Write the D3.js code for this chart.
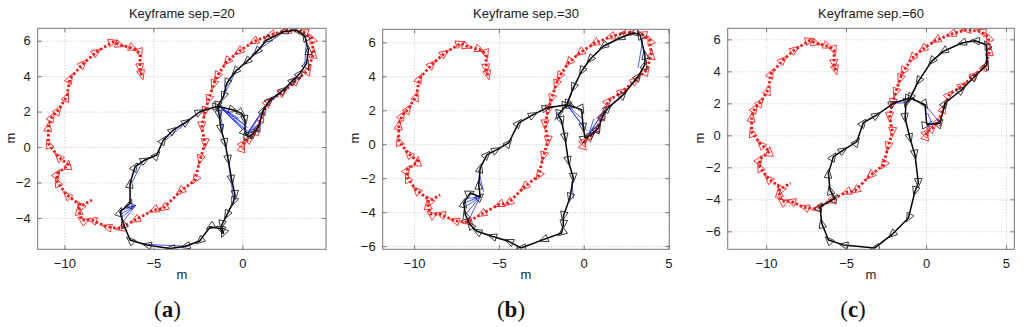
<!DOCTYPE html>
<html>
<head>
<meta charset="utf-8">
<script src="https://cdn.jsdelivr.net/npm/d3@7"></script>
<style>
  body { margin: 0; background: #fff; }
  svg { display: block; font-family: "Liberation Sans", Arial, sans-serif; }
</style>
</head>
<body>
<script>
'use strict';

// panel titles and captions
const titles = ["Keyframe sep.=20", "Keyframe sep.=30", "Keyframe sep.=60"];
const captions = ["a", "b", "c"];

// axis limits and ticks
const xDomains = [[-11.5, 4.7], [-11.85, 5.05], [-12.4, 5.52]];
const yDomains = [[-5.77, 6.7], [-6.19, 6.77], [-7.125, 6.69]];
const xTicks = [[-10, -5, 0], [-10, -5, 0, 5], [-10, -5, 0, 5]];
const yTicks = [[-4, -2, 0, 2, 4, 6], [-6, -4, -2, 0, 2, 4, 6], [-6, -4, -2, 0, 2, 4, 6]];

// ground truth (red), same for every panel
const redPath = [
  [-5.65,4.06],[-5.75,4.44],[-5.75,5.29],[-6.12,5.57],[-6.87,5.76],[-7.25,5.94],[-8.18,5.38],
  [-8.93,4.72],[-9.68,3.88],[-9.87,2.84],[-10.34,2.09],[-10.7,1.7],[-10.9,1.15],[-10.9,0.2],
  [-10.34,-0.55],[-9.78,-1.0],[-10.4,-1.5],[-10.4,-1.97],[-9.87,-2.7],[-9.12,-3.27],[-9.2,-3.56],
  [-9.02,-4.12],[-8.46,-4.12],[-7.62,-4.5],[-6.87,-4.59],[-6.03,-4.12],[-5.0,-3.56],[-4.44,-3.46],
  [-3.5,-2.52],[-2.66,-1.86],[-2.38,-0.73],[-2.1,0.2],[-2.28,1.15],[-2.1,1.99],[-1.91,2.65],
  [-1.63,3.5],[-1.44,3.97],[-0.88,4.81],[-0.22,5.38],[0.62,5.94],[1.56,6.32],[2.49,6.6],
  [3.43,6.5],[3.9,6.13],[3.99,5.29],[3.71,4.35],[3.06,3.78],[2.3,3.12],[1.46,2.56],[1.09,1.71],
  [0.81,0.96],[0.43,0.49],[0.06,0.21],[0.0,0.0]
];
const redBranch = [[-9.0,-3.3],[-8.46,-2.99]];

// estimated trajectories (black)
const blackA = [
  [0.15,0.77],[0.15,1.52],[-0.04,1.9],[-0.5,2.09],[-1.4,2.3],
  [-2.38,1.99],[-3.13,1.43],[-3.88,0.96],[-4.44,0.4],[-4.81,-0.45],[-5.47,-0.73],[-6.03,-1.11],
  [-6.31,-2.05],[-6.31,-3.18],[-6.88,-3.65],[-6.69,-4.31],[-6.31,-5.25],[-5.37,-5.53],[-4.06,-5.72],
  [-3.2,-5.6],[-2.4,-5.3],[-1.81,-4.5],[-1.25,-4.59],[-1.07,-4.87],[-1.16,-4.4],[-0.88,-3.84],
  [-0.5,-3.09],[-0.41,-2.71],[-0.6,-1.86],[-0.79,-0.73],[-0.97,0.21],[-1.2,1.0],[-1.3,1.8],[-1.4,2.3],
  [-1.07,2.84],[-0.88,3.59],[-0.41,4.25],[0.24,4.82],[0.81,5.38],[1.37,6.04],[2.3,6.5],[3.05,6.6],
  [3.52,6.23],[3.71,5.47],[3.61,4.72],[3.24,4.16],[2.87,3.78],[2.3,3.22],[1.55,2.65],[1.18,2.09],
  [0.9,1.15],[0.62,0.77],[0.34,0.58],[0.15,0.77]
];
const blackB = [
  [0.08,0.37],[-0.02,0.96],[-0.12,2.04],[-0.71,2.24],[-1.0,2.33],
  [-2.18,2.14],[-2.97,1.74],[-3.83,1.26],[-4.42,0.08],[-5.14,-0.33],[-5.7,-0.61],[-6.1,-1.4],
  [-6.19,-2.38],[-6.1,-3.1],[-6.69,-2.87],[-7.07,-3.46],[-6.98,-4.15],[-6.69,-4.74],[-6.29,-5.13],
  [-5.41,-5.42],[-4.42,-5.72],[-3.7,-6.11],[-2.38,-5.62],[-1.3,-5.23],[-1.2,-4.74],[-1.2,-4.24],
  [-0.81,-3.16],[-0.61,-1.98],[-0.9,-1.0],[-1.1,0.37],[-1.3,1.36],[-1.5,1.74],[-1.0,2.33],
  [-0.61,3.32],[-0.12,4.3],[0.37,4.99],[1.16,5.77],[2.14,6.26],[2.92,6.56],[3.32,6.46],[3.61,5.28],
  [3.61,4.69],[3.22,4.0],[2.34,2.92],[1.45,2.14],[1.16,1.74],[0.86,0.96],[0.47,0.57],[0.08,0.37]
];
const blackC = [
  [0.04,0.7],[-0.06,1.91],[-1.0,2.33],
  [-2.04,2.0],[-3.08,1.27],[-3.92,0.79],[-4.33,-0.4],[-5.17,-0.92],[-5.79,-1.33],[-6.1,-2.38],
  [-6.0,-3.42],[-5.69,-3.94],[-6.63,-4.46],[-6.52,-5.5],[-6.1,-6.54],[-5.17,-6.85],[-3.2,-7.04],
  [-2.14,-6.21],[-1.1,-5.17],[-0.69,-3.5],[-0.48,-2.98],[-0.69,-1.21],[-1.0,-0.2],[-1.31,1.08],
  [-1.25,2.0],[-1.0,2.33],
  [-0.48,3.37],[0.35,4.62],[1.08,5.25],[2.23,5.77],[3.06,5.91],[3.79,5.66],[3.79,4.41],[3.06,3.69],
  [2.23,2.85],[1.19,2.02],[0.88,0.77],[0.04,0.66]
];

// loop-closure links (blue), [x1, y1, x2, y2]
const blueA = [
  [-1.3,2.3,0.0,1.0],[-1.3,2.3,0.2,0.9],[-1.3,2.3,0.3,1.1],[-1.3,2.3,0.1,1.3],[-1.3,2.3,0.4,0.8],
  [-1.3,2.3,-0.2,1.6],[0.3,0.8,0.9,1.6],[0.3,0.8,1.1,2.0],[0.3,0.8,1.3,2.3],[0.3,0.8,0.7,1.2],
  [0.3,0.8,1.0,1.0],[0.3,0.8,1.2,1.4],[-6.0,-3.3,-6.9,-3.6],[-6.0,-3.3,-6.85,-3.8],
  [-6.0,-3.3,-6.8,-4.0],[-6.0,-3.3,-6.7,-4.2],[-6.0,-3.3,-6.6,-3.4],[-6.0,-3.3,-6.4,-3.1],
  [-6.2,-2.0,-5.6,-0.8],[-4.3,0.4,-3.0,1.5],[-1.1,2.8,-0.3,4.4],[0.5,5.2,2.2,6.4],
  [3.6,6.1,3.5,4.5],[3.3,4.0,1.5,2.5],[-0.8,-0.7,-0.5,-2.9],[-5.3,-5.5,-3.0,-5.6],
  [-1.3,2.3,-1.1,1.0],[-1.3,2.3,-0.9,3.3]
];
const blueB = [
  [0.3,0.6,1.1,1.8],[0.3,0.6,1.3,2.1],[0.3,0.6,0.9,1.2],[0.3,0.6,0.6,1.5],[0.3,0.6,1.0,0.8],
  [-1.0,2.33,0.0,1.0],[-1.0,2.33,0.2,0.8],[-1.0,2.33,-0.1,1.5],[-1.5,1.9,-1.7,1.4],
  [-6.1,-3.1,-7.07,-3.46],[-6.1,-3.1,-7.0,-3.7],[-6.1,-3.1,-6.98,-4.15],[-6.1,-3.1,-6.8,-4.5],
  [-6.1,-3.1,-6.69,-2.87],[-6.1,-3.1,-6.9,-3.2],[-6.2,-1.5,-5.9,-2.8],[3.5,6.2,3.2,4.5],
  [-0.7,-2.2,-0.6,-3.2],[-1.0,2.33,-0.7,3.0]
];
const blueC = [
  [-2.04,2.0,-1.2,2.05],[-0.06,1.91,0.88,0.77],[0.04,0.7,0.3,0.4],[0.04,0.7,0.88,0.77],
  [0.04,0.66,0.4,0.9],[0.1,1.4,0.4,0.6],[3.79,5.66,3.85,4.5],[-1.0,2.33,-0.6,3.1]
];

const blacks = [blackA, blackB, blackC];
const blues = [blueA, blueB, blueC];

// layout
const W = 1024, H = 327;
const boxes = [
  {l: 37.7, r: 326, t: 28.3, b: 249.3, yLab: 15, cap: 167.5},
  {l: 382.7, r: 669.3, t: 29.3, b: 249.3, yLab: 358.5, cap: 511},
  {l: 727.7, r: 1014.3, t: 28.3, b: 249.3, yLab: 703.5, cap: 853}
];
const FS = 13;

const svg = d3.select("body").append("svg").attr("width", W).attr("height", H);

function triPath(p, ang, L, Wd) {
  const c = Math.cos(ang), s = Math.sin(ang);
  const ax = p[0] + c * L / 2, ay = p[1] + s * L / 2;
  const bx = p[0] - c * L / 2, by = p[1] - s * L / 2;
  return `M${ax},${ay}L${bx - s * Wd / 2},${by + c * Wd / 2}L${bx + s * Wd / 2},${by - c * Wd / 2}Z`;
}

function markers(g, pts, x, y, every, color, cls, L, Wd) {
  const px = pts.map(d => [x(d[0]), y(d[1])]);
  const sel = px.map((p, i) => {
    const a = px[Math.max(0, i - 1)], b = px[Math.min(px.length - 1, i + 1)];
    return {p: p, ang: Math.atan2(b[1] - a[1], b[0] - a[0]), i: i};
  }).filter(every);
  g.selectAll("path." + cls).data(sel).enter().append("path")
    .attr("class", cls)
    .attr("d", d => triPath(d.p, d.ang + Math.PI, L, Wd))
    .attr("fill", "none")
    .attr("stroke", color)
    .attr("stroke-width", 0.9);
}

boxes.forEach(function (bx, k) {
  const x = d3.scaleLinear().domain(xDomains[k]).range([bx.l, bx.r]);
  const y = d3.scaleLinear().domain(yDomains[k]).range([bx.b, bx.t]);
  const w = bx.r - bx.l, h = bx.b - bx.t;
  const g = svg.append("g");

  // grid
  const gx = g.append("g").attr("transform", `translate(0,${bx.b})`)
    .call(d3.axisBottom(x).tickValues(xTicks[k]).tickSize(-h).tickFormat(""));
  const gy = g.append("g").attr("transform", `translate(${bx.l},0)`)
    .call(d3.axisLeft(y).tickValues(yTicks[k]).tickSize(-w).tickFormat(""));
  [gx, gy].forEach(a => {
    a.select(".domain").remove();
    a.selectAll("line").attr("stroke", "#c4c4c4").attr("stroke-dasharray", "1,2");
  });

  // clip
  const cid = "clip" + k;
  svg.append("clipPath").attr("id", cid).append("rect")
    .attr("x", bx.l).attr("y", bx.t).attr("width", w).attr("height", h);
  const plot = g.append("g").attr("clip-path", `url(#${cid})`);

  const line = d3.line().x(d => x(d[0])).y(d => y(d[1]));

  // ground truth
  [redPath, redBranch].forEach(pts => {
    plot.append("path").attr("d", line(pts)).attr("fill", "none")
      .attr("stroke", "#ff1010").attr("stroke-width", 2.8)
      .attr("stroke-dasharray", "2.4,2.2");
  });
  markers(plot, redPath, x, y, d => true, "#ff2020", "rt", 9.5, 8);

  // blue links
  plot.selectAll("line.blue").data(blues[k]).enter().append("line")
    .attr("class", "blue")
    .attr("x1", d => x(d[0])).attr("y1", d => y(d[1]))
    .attr("x2", d => x(d[2])).attr("y2", d => y(d[3]))
    .attr("stroke", "#1a2cff").attr("stroke-width", 0.8);

  // estimate
  plot.append("path").attr("d", line(blacks[k])).attr("fill", "none")
    .attr("stroke", "#000").attr("stroke-width", 1.5).attr("stroke-linejoin", "round");
  markers(plot, blacks[k], x, y, d => d.i > 0, "#222", "bt", 9, 7.5);

  // frame
  g.append("rect").attr("x", bx.l).attr("y", bx.t).attr("width", w).attr("height", h)
    .attr("fill", "none").attr("stroke", "#777").attr("stroke-width", 1);

  // axes with inside ticks
  const ax = g.append("g").attr("transform", `translate(0,${bx.b})`)
    .call(d3.axisBottom(x).tickValues(xTicks[k]).tickSizeInner(-4).tickSizeOuter(0).tickPadding(9));
  const axT = g.append("g").attr("transform", `translate(0,${bx.t})`)
    .call(d3.axisTop(x).tickValues(xTicks[k]).tickSizeInner(-4).tickSizeOuter(0).tickFormat(""));
  const ay = g.append("g").attr("transform", `translate(${bx.l},0)`)
    .call(d3.axisLeft(y).tickValues(yTicks[k]).tickSizeInner(-4).tickSizeOuter(0).tickPadding(7));
  const ayR = g.append("g").attr("transform", `translate(${bx.r},0)`)
    .call(d3.axisRight(y).tickValues(yTicks[k]).tickSizeInner(-4).tickSizeOuter(0).tickFormat(""));
  [ax, axT, ay, ayR].forEach(a => {
    a.select(".domain").remove();
    a.selectAll("line").attr("stroke", "#777");
    a.selectAll("text").attr("font-size", FS).attr("fill", "#1a1a1a")
      .attr("font-family", "'Liberation Sans', Arial, sans-serif");
  });

  // titles and labels
  g.append("text").attr("x", (bx.l + bx.r) / 2).attr("y", 18).attr("text-anchor", "middle")
    .attr("font-size", FS).attr("fill", "#1a1a1a").text(titles[k]);
  g.append("text").attr("x", (bx.l + bx.r) / 2).attr("y", 278.5).attr("text-anchor", "middle")
    .attr("font-size", FS).attr("fill", "#1a1a1a").text("m");
  g.append("text").attr("transform", `translate(${bx.yLab},138) rotate(-90)`)
    .attr("text-anchor", "middle").attr("font-size", FS).attr("fill", "#1a1a1a").text("m");

  const cap = g.append("text").attr("x", bx.cap).attr("y", 317).attr("text-anchor", "middle")
    .attr("font-family", "'Liberation Serif', 'Times New Roman', serif")
    .attr("font-size", 23).attr("fill", "#111");
  cap.append("tspan").text("(");
  cap.append("tspan").attr("font-weight", "bold").text(captions[k]);
  cap.append("tspan").text(")");
});
</script>
</body>
</html>
